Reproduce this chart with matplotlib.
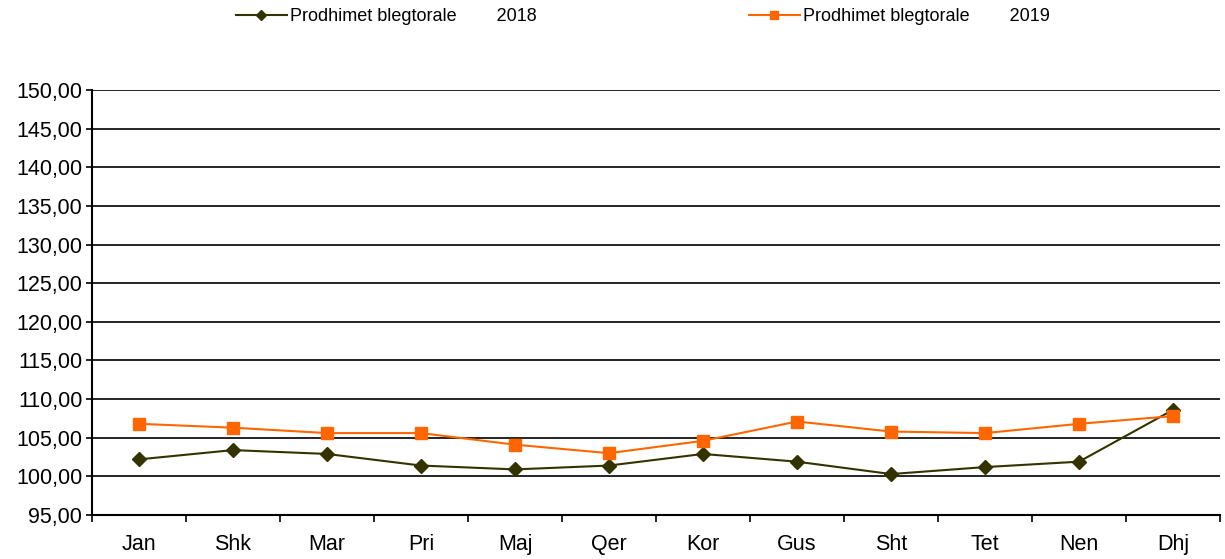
import numpy as np
import matplotlib.pyplot as plt
from matplotlib.ticker import FixedLocator, FuncFormatter

months = ["Jan", "Shk", "Mar", "Pri", "Maj", "Qer", "Kor", "Gus", "Sht", "Tet", "Nen", "Dhj"]
vals_2018 = [102.2, 103.4, 102.9, 101.4, 100.9, 101.4, 102.9, 101.9, 100.3, 101.2, 101.9, 108.6]
vals_2019 = [106.8, 106.3, 105.6, 105.6, 104.1, 103.0, 104.6, 107.1, 105.8, 105.6, 106.8, 107.8]
label_2018 = "Prodhimet blegtorale        2018"
label_2019 = "Prodhimet blegtorale        2019"

plt.rcParams['font.family'] = ['Liberation Sans', 'DejaVu Sans']

fig = plt.figure(figsize=(12.25, 5.59), dpi=100)
ax = fig.add_axes([92 / 1225, 1 - 515 / 559, (1220 - 92) / 1225, (515 - 90) / 559])

x = np.arange(len(months)) + 0.5
l1, = ax.plot(x, vals_2018, color="#333300", marker="D", markersize=7, linewidth=1.5, label=label_2018, zorder=3)
l2, = ax.plot(x, vals_2019, color="#ff6600", marker="s", markersize=8, linewidth=1.5, label=label_2019, zorder=4)

ax.set_xlim(0, len(months))
ax.set_ylim(95, 150)
ax.yaxis.set_major_locator(FixedLocator(np.arange(95, 151, 5)))
ax.yaxis.set_major_formatter(FuncFormatter(lambda v, p: f"{v:.2f}".replace(".", ",")))
ax.grid(axis="y", color="black", linewidth=1.2)
ax.set_axisbelow(True)

ax.set_xticks(np.arange(len(months) + 1))
ax.set_xticklabels([])
ax.set_xticks(x, minor=True)
ax.set_xticklabels(months, minor=True)
ax.tick_params(axis="x", which="major", length=5, width=1.2, direction="out")
ax.tick_params(axis="x", which="minor", length=0, pad=14, labelsize=15.5)
ax.tick_params(axis="y", length=4, width=1.2, direction="out", labelsize=15.5, pad=3)

for s in ["top", "right"]:
    ax.spines[s].set_visible(False)
ax.spines["left"].set_linewidth(1.5)
ax.spines["bottom"].set_linewidth(1.5)

leg1 = fig.legend(handles=[l1], loc="center left", bbox_to_anchor=(236 / 1225, 1 - 16.5 / 559), frameon=False,
                  fontsize=13, handlelength=2.8, handletextpad=0.2, borderpad=0, borderaxespad=0, markerscale=0.7)
leg2 = fig.legend(handles=[l2], loc="center left", bbox_to_anchor=(749 / 1225, 1 - 16.5 / 559), frameon=False,
                  fontsize=13, handlelength=2.8, handletextpad=0.2, borderpad=0, borderaxespad=0, markerscale=0.7)

fig.savefig("out.png", dpi=100)
